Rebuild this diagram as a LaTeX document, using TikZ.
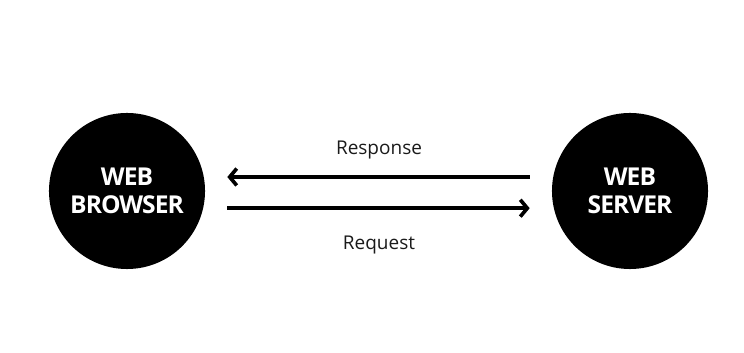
\documentclass[tikz,border=0pt]{standalone}
\usepackage{fontspec}
\setmainfont{Open Sans}
\newfontfamily\discfont[LetterSpace=-4]{Open Sans}
\usetikzlibrary{arrows.meta}
\definecolor{discblack}{HTML}{000000}
\definecolor{labelgray}{HTML}{1A1A1A}
\tikzset{
  disc/.style={circle, fill=discblack, minimum size=3.9cm, inner sep=0pt,
    text=white, align=center, font=\discfont\fontsize{17.5}{20}\selectfont\bfseries},
  msg/.style={text=labelgray, font=\fontsize{13.5}{16}\selectfont},
  flow/.style={line width=2.9pt, -{Straight Barb[length=5pt, width=12pt, line width=2.6pt]}}
}

\begin{document}
\begin{tikzpicture}[x=0.025cm, y=-0.025cm]
            \useasboundingbox (0,0) rectangle (744,353);
            \node[disc] (browser) at (127,191) {WEB\\BROWSER};
            \node[disc] (server) at (630,191) {WEB\\SERVER};
            \draw[flow] ([xshift=-0.55cm, yshift=0.35cm]server.west) -- ([xshift=0.55cm, yshift=0.35cm]browser.east);
            \draw[flow] ([xshift=0.55cm, yshift=-0.43cm]browser.east) -- ([xshift=-0.55cm, yshift=-0.43cm]server.west);
            \node[msg] (response) at (379,150) {Response};
            \node[msg] (request) at (379,245) {Request};
        \end{tikzpicture}
\end{document}
